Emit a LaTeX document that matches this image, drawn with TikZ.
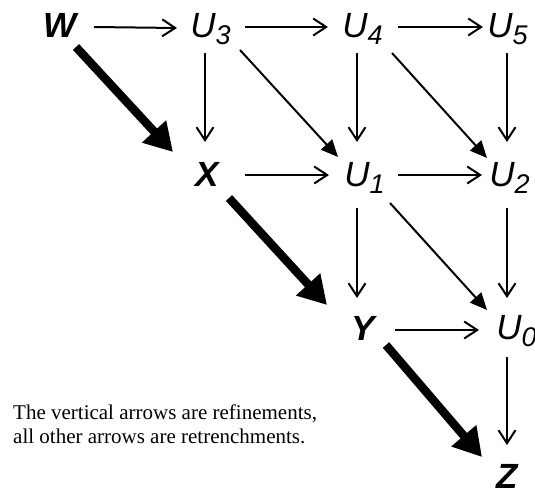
\documentclass[tikz,border=0pt]{standalone}
\usepackage{fontspec}
\setmainfont{Liberation Serif}
\setsansfont{Liberation Sans}
\usetikzlibrary{arrows.meta}

% subscript that does not widen or deepen the node
\newcommand{\idx}[1]{\smash{\rlap{\raisebox{-7pt}{\fontsize{27}{27}\selectfont #1}}}}

\begin{document}
\begin{tikzpicture}[x=1pt,y=-1pt,
  var/.style={inner sep=0pt,font=\sffamily\itshape\fontsize{35}{40}\selectfont},
  bvar/.style={inner sep=0pt,font=\sffamily\bfseries\itshape\fontsize{35}{40}\selectfont},
  openarrow/.style={line width=2pt,-{Straight Barb[length=13pt,width=17pt]}},
  filledarrow/.style={line width=2pt,-{Triangle[length=17pt,width=15pt]}},
  heavyarrow/.style={line width=8.5pt,-{Triangle[length=28pt,width=31pt]}},
  note/.style={inner sep=0pt,align=left,font=\fontsize{21}{24}\selectfont}]

\useasboundingbox (0,0) rectangle (535,493);

% states
\node[bvar] (W)  at (60,25)  {W};
\node[var]  (U3) at (203,26) {U\idx{3}};
\node[var]  (U4) at (355,26) {U\idx{4}};
\node[var]  (U5) at (500,26) {U\idx{5}};
\node[bvar] (X)  at (207,174) {X};
\node[var]  (U1) at (357,175) {U\idx{1}};
\node[var]  (U2) at (502,175) {U\idx{2}};
\node[bvar] (Y)  at (363,328) {Y};
\node[var]  (U0) at (509,328) {U\idx{0}};
\node[bvar] (Z)  at (507,476) {Z};

% horizontal arrows
\draw[openarrow] ([shift={(34,2)}]W.center)  -- ([shift={(-26,2)}]U3.center);
\draw[openarrow] ([shift={(42,1)}]U3.center) -- ([shift={(-27,1)}]U4.center);
\draw[openarrow] ([shift={(43,1)}]U4.center) -- ([shift={(-17,1)}]U5.center);
\draw[openarrow] ([shift={(38,1)}]X.center)  -- ([shift={(-28,0)}]U1.center);
\draw[openarrow] ([shift={(41,0)}]U1.center) -- ([shift={(-20,0)}]U2.center);
\draw[openarrow] ([shift={(32,2)}]Y.center)  -- ([shift={(-30,2)}]U0.center);

% vertical arrows (refinements)
\draw[openarrow] ([shift={(2,27)}]U3.center) -- ([shift={(-2,-32)}]X.center);
\draw[openarrow] ([shift={(2,27)}]U4.center) -- ([shift={(0,-33)}]U1.center);
\draw[openarrow] ([shift={(7,27)}]U5.center) -- ([shift={(5,-33)}]U2.center);
\draw[openarrow] ([shift={(0,33)}]U1.center) -- ([shift={(-6,-30)}]Y.center);
\draw[openarrow] ([shift={(5,33)}]U2.center) -- ([shift={(-2,-30)}]U0.center);
\draw[openarrow] ([shift={(-2,29)}]U0.center) -- ([shift={(0,-31)}]Z.center);

% diagonal arrows
\draw[filledarrow] ([shift={(37,24)}]U3.center) -- ([shift={(-19,-18)}]U1.center);
\draw[filledarrow] ([shift={(37,27)}]U4.center) -- ([shift={(-15,-17)}]U2.center);
\draw[filledarrow] ([shift={(33,28)}]U1.center) -- ([shift={(-22,-18)}]U0.center);

% main path
\draw[heavyarrow] ([shift={(16,22)}]W.center) -- ([shift={(-34,-22)}]X.center);
\draw[heavyarrow] ([shift={(22,24)}]X.center) -- ([shift={(-36,-23)}]Y.center);
\draw[heavyarrow] ([shift={(23,17)}]Y.center) -- ([shift={(-25,-19)}]Z.center);

\node[note,anchor=base west] (legend) at (13,443)
  {The vertical arrows are refinements,\\all other arrows are retrenchments.};
\end{tikzpicture}
\end{document}
